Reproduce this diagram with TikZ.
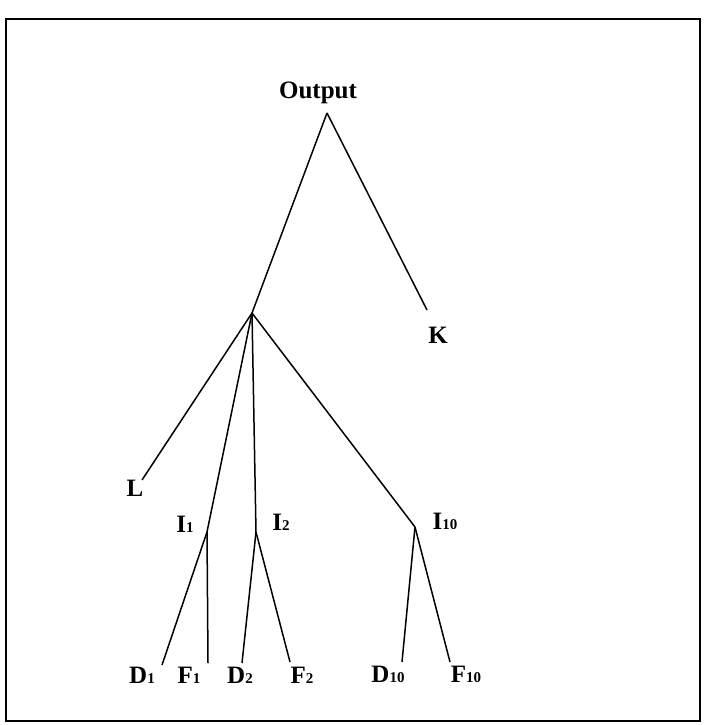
\documentclass[tikz,border=0pt]{standalone}
\usepackage{fontspec}
\setmainfont{Liberation Serif}
\newcommand{\idx}[1]{{\fontsize{15}{15}\selectfont #1}}

\begin{document}
\begin{tikzpicture}[x=1pt,y=-1pt,
  lbl/.style={anchor=base,inner sep=0pt,font=\fontsize{25}{29}\selectfont\bfseries},
  edge/.style={line width=1.5pt}]
  \useasboundingbox (0,0) rectangle (704,725);
  \draw[line width=2pt] (6,19) rectangle (700,721);

  % labels
  \node[lbl] (out) at (318,98) {Output};
  \node[lbl] (k) at (438,343) {K};
  \node[lbl] (l) at (135,496) {L};
  \node[lbl] (li1) at (185,532) {I\idx{1}};
  \node[lbl] (li2) at (281,530) {I\idx{2}};
  \node[lbl] (li10) at (445,529) {I\idx{10}};
  \node[lbl] (ld1) at (142,683) {D\idx{1}};
  \node[lbl] (lf1) at (189,683) {F\idx{1}};
  \node[lbl] (ld2) at (240,683) {D\idx{2}};
  \node[lbl] (lf2) at (302,683) {F\idx{2}};
  \node[lbl] (ld10) at (388,682) {D\idx{10}};
  \node[lbl] (lf10) at (466,682) {F\idx{10}};

  % branch points and line ends
  \coordinate (top) at (327,113);
  \coordinate (mid) at (252,313);
  \coordinate (kend) at (427,310);
  \coordinate (lend) at (142,480);
  \coordinate (i1) at (207,532);
  \coordinate (i2) at (256,532);
  \coordinate (i10) at (415,527);
  \coordinate (d1) at (162,665);
  \coordinate (f1) at (208,663);
  \coordinate (d2) at (242,663);
  \coordinate (f2) at (290,662);
  \coordinate (d10) at (402,662);
  \coordinate (f10) at (450,662);

  \draw[edge] (top) -- (mid);
  \draw[edge] (top) -- (kend);
  \draw[edge] (mid) -- (lend);
  \draw[edge] (mid) -- (i1);
  \draw[edge] (mid) -- (i2);
  \draw[edge] (mid) -- (i10);
  \draw[edge] (i1) -- (d1);
  \draw[edge] (i1) -- (f1);
  \draw[edge] (i2) -- (d2);
  \draw[edge] (i2) -- (f2);
  \draw[edge] (i10) -- (d10);
  \draw[edge] (i10) -- (f10);
\end{tikzpicture}
\end{document}
